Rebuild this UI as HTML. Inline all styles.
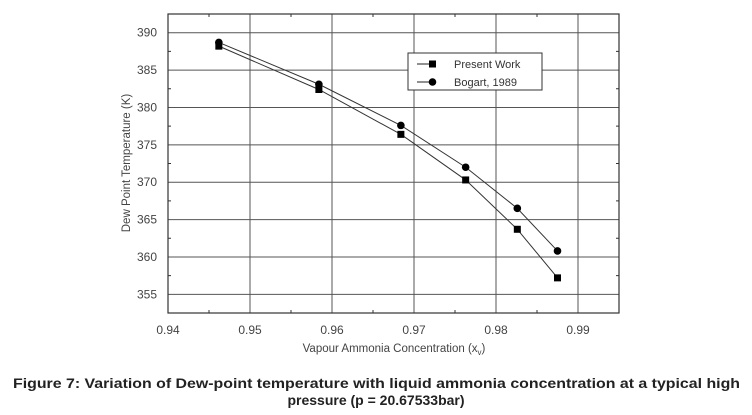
<!DOCTYPE html>
<html><head><meta charset="utf-8"><style>
body{margin:0;background:#fff;}
svg{display:block;font-family:"Liberation Sans",Arial,sans-serif;}
</style></head><body>
<svg id="chart" width="752" height="415" viewBox="0 0 752 415">
<g id="grid"></g>
<g id="axes"></g>
<g id="series"></g>
<text x="130" y="163" font-size="11.5" fill="#444" text-anchor="middle" transform="rotate(-90 130 163)">Dew Point Temperature (K)</text>
<text x="394" y="352" font-size="11.5" fill="#444" text-anchor="middle">Vapour Ammonia Concentration (x<tspan font-size="8" dy="3">v</tspan><tspan dy="-3">)</tspan></text>
<g>
<rect x="408" y="53" width="134" height="37" fill="#fff" stroke="#333" stroke-width="1"/>
<g>
<line x1="417" y1="64" x2="432" y2="64" stroke="#222"/><rect x="429" y="60.5" width="7" height="7" fill="#000"/>
<text x="454" y="68" font-size="11" fill="#333">Present Work</text></g>
<g>
<line x1="417" y1="82" x2="432" y2="82" stroke="#222"/><circle cx="432.5" cy="82" r="3.8" fill="#000"/>
<text x="454" y="86" font-size="11" fill="#333">Bogart, 1989</text></g>
</g>
<text x="13" y="388" font-size="14" font-weight="bold" fill="#222" textLength="727" lengthAdjust="spacingAndGlyphs">Figure 7: Variation of Dew-point temperature with liquid ammonia concentration at a typical high</text>
<text x="376" y="405" font-size="14" font-weight="bold" fill="#222" text-anchor="middle">pressure (p = 20.67533bar)</text>
</svg>
<script>
const xTicks = [0.94, 0.95, 0.96, 0.97, 0.98, 0.99];
const yTicks = [355, 360, 365, 370, 375, 380, 385, 390];
const xConc = [0.9462, 0.9584, 0.9684, 0.9763, 0.9826, 0.9875];
const presentWork = [388.2, 382.4, 376.4, 370.3, 363.7, 357.2];
const bogart1989 = [388.7, 383.1, 377.6, 372.0, 366.5, 360.8];

const L=168,R=619,T=14,B=313, X0=0.94,X1=0.995,Y0=352.5,Y1=392.5;
const sx=v=>L+(v-X0)/(X1-X0)*(R-L);
const sy=v=>B-(v-Y0)/(Y1-Y0)*(B-T);
const NS='http://www.w3.org/2000/svg';
function mk(parent,tag,attrs){const e=document.createElementNS(NS,tag);for(const k in attrs)e.setAttribute(k,attrs[k]);parent.appendChild(e);return e;}
const grid=document.getElementById('grid'),axes=document.getElementById('axes'),series=document.getElementById('series');
xTicks.forEach(t=>{
  const x=sx(t);
  if(t>X0){const g=mk(grid,'line',{x1:x,x2:x,y1:T,y2:B,stroke:'#555','stroke-width':1});
  
  }
  const lb=mk(axes,'text',{x:x,y:334,'font-size':12,fill:'#444','text-anchor':'middle'});lb.textContent=t.toFixed(2);
  
  
  const h=sx(t+0.005);
  if(h<R){mk(axes,'line',{x1:h,x2:h,y1:B,y2:B-3,stroke:'#333'});mk(axes,'line',{x1:h,x2:h,y1:T,y2:T+3,stroke:'#333'});}
});
yTicks.forEach(t=>{
  const y=sy(t);
  const g=mk(grid,'line',{x1:L,x2:R,y1:y,y2:y,stroke:'#555','stroke-width':1});
  
  
  const lb=mk(axes,'text',{x:157,y:y+4,'font-size':12,fill:'#444','text-anchor':'end'});lb.textContent=t;
  
  
  const h=sy(t-2.5);
  mk(axes,'line',{x1:L,x2:L+3,y1:h,y2:h,stroke:'#333'});mk(axes,'line',{x1:R,x2:R-3,y1:h,y2:h,stroke:'#333'});
});
const fr=mk(axes,'rect',{x:L,y:T,width:R-L,height:B-T,fill:'none',stroke:'#333','stroke-width':1.2});


function draw(vals,kind){
  const pts=xConc.map((x,i)=>sx(x)+','+sy(vals[i])).join(' ');
  const pl=mk(series,'polyline',{points:pts,fill:'none',stroke:'#333','stroke-width':1});
  
  
  xConc.forEach((x,i)=>{
    let m;
    if(kind==='present-work')m=mk(series,'rect',{x:sx(x)-3.5,y:sy(vals[i])-3.5,width:7,height:7,fill:'#000'});
    else m=mk(series,'circle',{cx:sx(x),cy:sy(vals[i]),r:3.8,fill:'#000'});
    
    
  });
}
draw(presentWork,'present-work');
draw(bogart1989,'bogart-1989');
</script>
</body></html>
